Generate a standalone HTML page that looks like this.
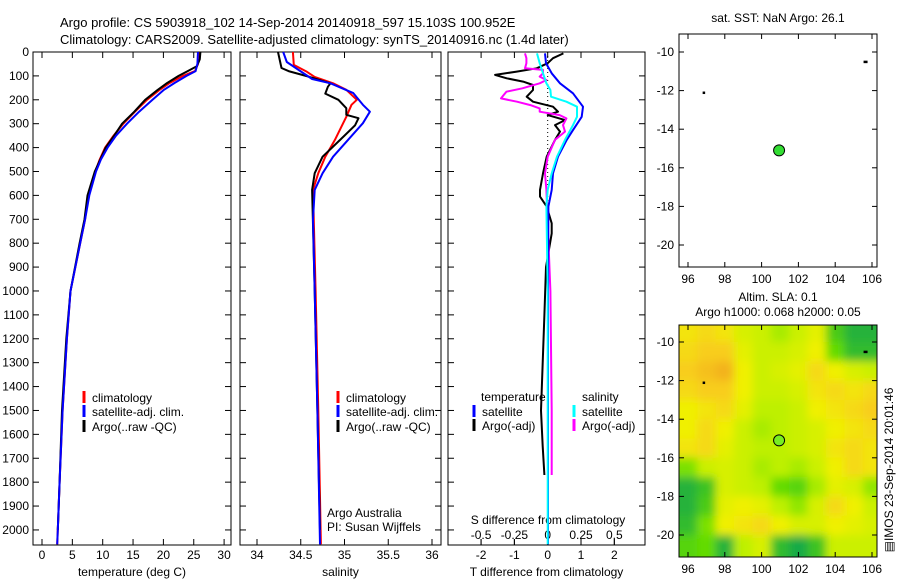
<!DOCTYPE html>
<html><head><meta charset="utf-8"><style>
body{margin:0;background:#fff;width:900px;height:580px;overflow:hidden}
svg{font-family:"Liberation Sans",sans-serif;font-size:12px}
text{fill:#000}
</style></head><body>
<svg id="s" width="900" height="580" xmlns="http://www.w3.org/2000/svg">
<defs>
<filter id="bl" x="-5%" y="-5%" width="110%" height="110%"><feGaussianBlur stdDeviation="4.5"/></filter>
<clipPath id="mapclip"><rect x="679" y="325" width="198" height="232"/></clipPath>
</defs>
<text x="60" y="27" font-size="13">Argo profile: CS 5903918_102 14-Sep-2014 20140918_597 15.103S 100.952E</text>
<text x="60" y="44" font-size="13">Climatology: CARS2009. Satellite-adjusted climatology: synTS_20140916.nc (1.4d later)</text>
<g id="g"></g>
</svg>
<script>
// ---- data ----
const depthTicks=[0,100,200,300,400,500,600,700,800,900,1000,1100,1200,1300,1400,1500,1600,1700,1800,1900,2000];
const tTicks=[0,5,10,15,20,25,30];
const sTicks=[34,34.5,35,35.5,36];
const tdTicks=[-2,-1,0,1,2];
const sdTicks=[-0.5,-0.25,0,0.25,0.5];
const tempClimDepth=[0,50,80,100,130,160,200,250,300,350,400,450,500,600,700,800,1000,1200,1500,1800,2000,2060];
const tempClim=[25.8,25.7,25.2,23.2,21,19.3,17.3,15.3,13.4,11.8,10.4,9.5,8.8,7.6,7.1,6.3,4.7,4.1,3.4,2.9,2.6,2.5];
const tempSatDepth=[0,50,80,100,130,160,200,250,300,350,400,450,500,600,700,800,1000,1200,1500,1800,2000,2060];
const tempSat=[25.7,25.6,25.3,23.8,21.8,20,18.2,16,14,12.2,10.8,9.7,8.9,7.8,7.1,6.3,4.7,4.1,3.4,2.9,2.6,2.5];
const tempArgoDepth=[0,30,60,80,100,130,160,200,250,300,350,400,500,600,700,800,1000,1200,1500,1800,2000];
const tempArgo=[26.1,26,25.5,24,22.5,20.6,19,17,15.2,13.2,11.9,10.5,8.7,7.5,7,6.2,4.7,4.0,3.3,2.9,2.6];
const salClimDepth=[0,54,83,104,131,158,200,221,271,368,438,507,577,1000,1500,2060];
const salClim=[34.41,34.42,34.57,34.66,34.87,35.02,35.14,35.08,35.02,34.89,34.78,34.70,34.64,34.67,34.70,34.73];
const salSatDepth=[0,42,113,131,172,221,250,298,368,438,507,577,700,1000,1500,2060];
const salSat=[34.30,34.34,34.63,34.84,35.10,35.21,35.29,35.21,35.04,34.87,34.75,34.66,34.64,34.66,34.69,34.72];
const salArgoDepth=[0,67,81,104,131,145,174,200,235,263,277,307,368,438,507,577,1000,1500,2000];
const salArgo=[34.24,34.28,34.37,34.60,34.84,34.81,34.78,34.93,35.02,35.02,35.16,35.12,34.95,34.75,34.66,34.63,34.66,34.69,34.72];
const tdSatDepth=[6,47,89,131,173,229,271,327,368,438,508,577,647,1000,1500,2060];
const tdSat=[-0.08,-0.05,0.12,0.37,0.76,1.06,1.02,0.76,0.57,0.31,0.16,0.12,0.02,0.01,0.01,0.01];
const tdArgoDepth=[6,26,47,68,82,96,110,124,138,159,187,208,229,250,264,285,306,333,368,438,508,577,605,647,717,759,900,1100,1300,1500,1650,1770];
const tdArgo=[0.47,0.16,0,-0.33,-0.93,-1.58,-1.23,-0.74,-0.44,-0.44,-0.63,-0.44,0.16,0.31,0,0.52,0.22,0.37,0.22,-0.03,-0.14,-0.23,-0.23,-0.03,0.12,0.12,-0.05,-0.1,-0.15,-0.2,-0.15,-0.1];
const sdSatDepth=[6,47,89,131,159,187,208,229,271,306,368,438,508,577,647,1000,1500,2060];
const sdSat=[-0.08,-0.06,-0.035,-0.01,0.02,0.025,0.14,0.22,0.22,0.19,0.13,0.07,0.03,0,-0.01,0,0,0];
const sdArgoDepth=[6,26,47,68,75,89,103,117,131,152,166,180,194,208,222,236,250,264,278,306,333,368,438,508,577,717,1000,1500,1770];
const sdArgo=[-0.17,-0.16,-0.16,-0.17,-0.035,-0.035,-0.06,-0.01,-0.06,-0.19,-0.31,-0.33,-0.35,-0.23,-0.13,-0.06,-0.06,0.09,0.14,0.115,0.13,0.055,0,-0.02,-0.01,0,0.02,0.03,0.03];
const mapLon=[96,97,98,99,100,101,102,103,104,105,106];
const mapLat=[-9.5,-10.5,-11.5,-12.5,-13.5,-14.5,-15.5,-16.5,-17.5,-18.5,-19.5,-20.5];
const slaGrid=[
[.75,.8,.75,.6,.55,.45,.55,.65,.2,.05,.05],
[.8,.85,.85,.65,.55,.55,.6,.7,.3,.1,.1],
[.85,.9,.95,.7,.55,.6,.65,.8,.7,.6,.55],
[.8,.85,.85,.7,.55,.55,.6,.75,.8,.75,.8],
[.7,.75,.8,.65,.5,.5,.55,.7,.75,.8,.85],
[.7,.8,.7,.55,.45,.5,.55,.6,.7,.75,.8],
[.75,.8,.65,.55,.5,.5,.55,.6,.75,.8,.75],
[.35,.55,.6,.55,.45,.5,.45,.55,.7,.8,.75],
[.05,.15,.6,.55,.5,.3,.25,.45,.65,.6,.4],
[.05,.2,.65,.7,.65,.5,.4,.6,.8,.7,.55],
[.1,.35,.7,.75,.8,.7,.6,.6,.7,.65,.6],
[.25,.3,.05,.5,.6,.1,0,.15,.55,.55,.55]];
const mapTicksX=[96,98,100,102,104,106];
const mapTicksY=[-10,-12,-14,-16,-18,-20];
const floatLon=[100.95];
const floatLat=[-15.1];

// ---- helpers ----
const NS='http://www.w3.org/2000/svg';
const G=document.getElementById('g');
function mk(tag,at,parent){const e=document.createElementNS(NS,tag);for(const k in at)e.setAttribute(k,at[k]);(parent||G).appendChild(e);return e;}
const TOP=52,BOT=545,DMAX=2063;
const yD=d=>TOP+d*(BOT-TOP)/DMAX;
const P1={l:33,r:231},P2={l:240,r:441},P3={l:448,r:645};
const xT=v=>42+v*6.07;
const xS=v=>257+(v-34)*87.5;
const xTD=v=>547.7+v*33.3;
const xSD=v=>547.7+v*133.3;

function box(p,name){
  const r=mk('rect',{x:p.l,y:TOP,width:p.r-p.l,height:BOT-TOP,fill:'none',stroke:'#000','stroke-width':1});
  
  
  depthTicks.forEach(d=>{const y=yD(d);
    mk('line',{x1:p.l,x2:p.l+6,y1:y,y2:y,stroke:'#000'});
    mk('line',{x1:p.r-6,x2:p.r,y1:y,y2:y,stroke:'#000'});});
}
function xticks(p,vals,fx,name,labY,title,titleName){
  vals.forEach(v=>{const x=fx(v);
    mk('line',{x1:x,x2:x,y1:TOP,y2:TOP+6,stroke:'#000'});
    mk('line',{x1:x,x2:x,y1:BOT-6,y2:BOT,stroke:'#000'});
    const t=mk('text',{x:x,y:labY,'text-anchor':'middle'});t.textContent=v;
    
    });
  const t=mk('text',{x:(p.l+p.r)/2,y:576,'text-anchor':'middle'});t.textContent=title;
  
  
}
function line(xs,ds,fx,color,name,w){
  const pts=xs.map((v,i)=>fx(v).toFixed(1)+','+yD(ds[i]).toFixed(1)).join(' ');
  const e=mk('polyline',{points:pts,fill:'none',stroke:color,'stroke-width':w||2,'stroke-linejoin':'round'});
  
  
}
function legend(x,y,color,label,name){
  mk('line',{x1:x,x2:x,y1:y-11,y2:y+1,stroke:color,'stroke-width':3});
  const t=mk('text',{x:x+8,y:y});t.textContent=label;
  
  
}

// panel 1
box(P1,'temperature-panel');
depthTicks.forEach(d=>{const t=mk('text',{x:29,y:yD(d)+4,'text-anchor':'end'});t.textContent=d;
  
  });
xticks(P1,tTicks,xT,'temperature-tick-label',559,'temperature (deg C)','temperature-axis-title');
line(tempClim,tempClimDepth,xT,'#f00','temp-climatology-line');
line(tempArgo,tempArgoDepth,xT,'#000','temp-argo-line');
line(tempSat,tempSatDepth,xT,'#00f','temp-satellite-line');
legend(84,402,'#f00','climatology','legend-climatology');
legend(84,416,'#00f','satellite-adj. clim.','legend-satellite');
legend(84,431,'#000','Argo(..raw -QC)','legend-argo');

// panel 2
box(P2,'salinity-panel');
xticks(P2,sTicks,xS,'salinity-tick-label',559,'salinity','salinity-axis-title');
line(salClim,salClimDepth,xS,'#f00','sal-climatology-line');
line(salArgo,salArgoDepth,xS,'#000','sal-argo-line');
line(salSat,salSatDepth,xS,'#00f','sal-satellite-line');
legend(338,402,'#f00','climatology','legend-climatology-2');
legend(338,416,'#00f','satellite-adj. clim.','legend-satellite-2');
legend(338,431,'#000','Argo(..raw -QC)','legend-argo-2');
[['Argo Australia',517],['PI: Susan Wijffels',531]].forEach(a=>{const t=mk('text',{x:327,y:a[1]});t.textContent=a[0];
  
  });

// panel 3
box(P3,'difference-panel');
xticks(P3,tdTicks,xTD,'t-diff-tick-label',559,'T difference from climatology','t-diff-axis-title');
sdTicks.forEach(v=>{const x=xSD(v);mk('line',{x1:x,x2:x,y1:BOT-6,y2:BOT,stroke:'#000'});
  const t=mk('text',{x:x,y:539,'text-anchor':'middle'});t.textContent=v;
  
  });
{const t=mk('text',{x:548,y:524,'text-anchor':'middle'});t.textContent='S difference from climatology';
 
 }
mk('line',{x1:xTD(0),x2:xTD(0),y1:TOP,y2:BOT,stroke:'#000','stroke-dasharray':'1,3'});
line(tdArgo,tdArgoDepth,xTD,'#000','t-diff-argo-line');
line(sdArgo,sdArgoDepth,xSD,'#f0f','s-diff-argo-line');
line(tdSat,tdSatDepth,xTD,'#00f','t-diff-satellite-line');
line(sdSat,sdSatDepth,xSD,'#0ff','s-diff-satellite-line');
{let t=mk('text',{x:481,y:401});t.textContent='temperature';
 t=mk('text',{x:582,y:401});t.textContent='salinity';}
legend(474,416,'#00f','satellite','legend-t-satellite');
legend(474,430,'#000','Argo(-adj)','legend-t-argo');
legend(574,416,'#0ff','satellite','legend-s-satellite');
legend(574,430,'#f0f','Argo(-adj)','legend-s-argo');

// maps
function lonX(v){return 688+(v-96)*18.4;}
function mapAxes(top,bot,lat10,lat20,name){
  const latY=v=>lat10+(v+10)*(lat20-lat10)/(-10);
  const r=mk('rect',{x:679,y:top,width:198,height:bot-top,fill:'none',stroke:'#000'});
  
  
  mapTicksX.forEach(v=>{const x=lonX(v);mk('line',{x1:x,x2:x,y1:top,y2:top+5,stroke:'#000'});mk('line',{x1:x,x2:x,y1:bot-5,y2:bot,stroke:'#000'});
    const t=mk('text',{x:x,y:bot+16,'text-anchor':'middle'});t.textContent=v;
    
    });
  mapTicksY.forEach(v=>{const y=latY(v);mk('line',{x1:679,x2:684,y1:y,y2:y,stroke:'#000'});mk('line',{x1:872,x2:877,y1:y,y2:y,stroke:'#000'});
    const t=mk('text',{x:674,y:y+4,'text-anchor':'end'});t.textContent=v;
    
    });
  return latY;
}
function cmap(t){const st=[[0,[24,170,70]],[0.3,[100,220,0]],[0.5,[190,240,0]],[0.7,[240,240,0]],[0.85,[248,205,30]],[1,[240,165,30]]];
  for(let i=1;i<st.length;i++){if(t<=st[i][0]){const a=st[i-1],b=st[i],f=(t-a[0])/(b[0]-a[0]);
    return 'rgb('+a[1].map((c,k)=>Math.round(c+(b[1][k]-c)*f)).join(',')+')';}}return 'rgb(240,165,30)';}
// bottom map (SLA)
const latB=v=>342+(v+10)*(535-342)/(-10);
const mg=mk('g',{'clip-path':'url(#mapclip)'});


const inner=mk('g',{filter:'url(#bl)'},mg);
slaGrid.forEach((row,i)=>row.forEach((v,j)=>{
  const x=lonX(mapLon[j]-0.5),y=latB(mapLat[i]+0.5);
  const w=lonX(mapLon[j]+0.5)-x+(j==row.length-1?20:0), h=latB(mapLat[i]-0.5)-y+(i==slaGrid.length-1?20:0);
  const c=mk('rect',{x:x-(j==0?20:0),y:y-(i==0?20:0),width:w+(j==0?20:0)+0.5,height:h+(i==0?20:0)+0.5,fill:cmap(v)},inner);
  
  
}));
const latT=mapAxes(34,267,52,245,'sst-map');
mapAxes(325,557,342,535,'sla-map');
{let t=mk('text',{x:778,y:22,'text-anchor':'middle'});t.textContent='sat. SST: NaN Argo: 26.1';
 t=mk('text',{x:778,y:301,'text-anchor':'middle'});t.textContent='Altim. SLA: 0.1';
 t=mk('text',{x:778,y:316,'text-anchor':'middle'});t.textContent='Argo h1000: 0.068 h2000: 0.05';
 t=mk('text',{x:0,y:0,'text-anchor':'middle',transform:'translate(893,470) rotate(-90)'});t.textContent='\u25A4IMOS 23-Sep-2014 20:01:46';}
floatLon.forEach((v,i)=>{
  let c=mk('circle',{cx:lonX(v),cy:latT(floatLat[i]),r:5.5,fill:'#3d3',stroke:'#000'});
  
  c=mk('circle',{cx:lonX(v),cy:latB(floatLat[i]),r:5.5,fill:'#7e2',stroke:'#000'});
  
});
[[latT],[latB]].forEach(f=>{mk('rect',{x:lonX(96.85)-1,y:f[0](-12.1)-1,width:2.5,height:2.5,fill:'#000'});mk('rect',{x:lonX(105.65)-2,y:f[0](-10.5)-1,width:4,height:2.5,fill:'#000'});});
</script>
</body></html>
